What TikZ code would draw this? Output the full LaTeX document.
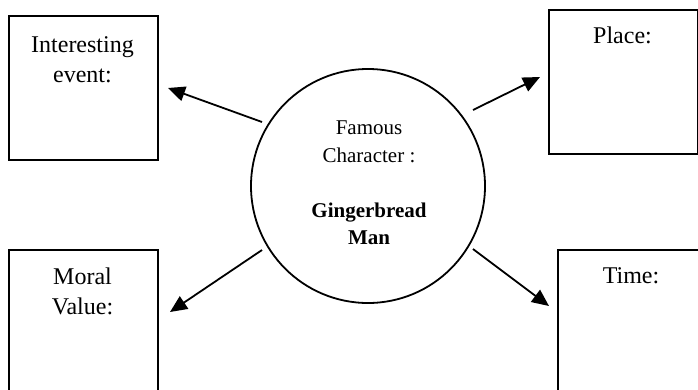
\documentclass[tikz,border=0pt]{standalone}
\usepackage{fontspec}
\setmainfont{Liberation Serif}
\usetikzlibrary{arrows.meta}
\begin{document}
\begin{tikzpicture}[x=1pt,y=-1pt,
  boxshape/.style={draw,line width=1.6pt,rectangle,minimum width=149pt,minimum height=144pt,inner sep=0pt,anchor=north west},
  boxtext/.style={anchor=base,inner sep=0pt,font=\fontsize{24}{30}\selectfont},
  circtext/.style={anchor=base,inner sep=0pt,font=\fontsize{21}{27}\selectfont},
  link/.style={line width=1.8pt,-{Triangle[length=17pt,width=15pt]}}]
\useasboundingbox (0,0) rectangle (698,389);
\clip (0,0) rectangle (698,389);
\node[boxshape] (event) at (8,15) {};
\node[boxshape] (place) at (548,9) {};
\node[boxshape,minimum height=170pt] (moral) at (8,249) {};
\node[boxshape,minimum height=170pt] (time) at (557,249) {};
\node[draw,circle,line width=1.8pt,minimum size=234pt,inner sep=0pt] (circ) at (368,186) {};
\node[boxtext] (t1) at (82.5,52) {Interesting};
\node[boxtext] (t2) at (82.5,82) {event:};
\node[boxtext] (t3) at (622.5,43) {Place:};
\node[boxtext] (t4) at (82.5,284) {Moral};
\node[boxtext] (t5) at (82.5,314) {Value:};
\node[boxtext] (t6) at (631,283) {Time:};
\node[circtext] (c1) at (369,134) {Famous};
\node[circtext] (c2) at (369,162) {Character :};
\node[circtext] (c3) at (369,217) {\textbf{Gingerbread}};
\node[circtext] (c4) at (369,244) {\textbf{Man}};
\coordinate (a1s) at (262,122); \coordinate (a1e) at (168,88);
\coordinate (a2s) at (473,110); \coordinate (a2e) at (540,77);
\coordinate (a3s) at (262,250); \coordinate (a3e) at (170,312);
\coordinate (a4s) at (473,249); \coordinate (a4e) at (549,306);
\draw[link] (a1s) -- (a1e);
\draw[link] (a2s) -- (a2e);
\draw[link] (a3s) -- (a3e);
\draw[link] (a4s) -- (a4e);
\end{tikzpicture}
\end{document}
